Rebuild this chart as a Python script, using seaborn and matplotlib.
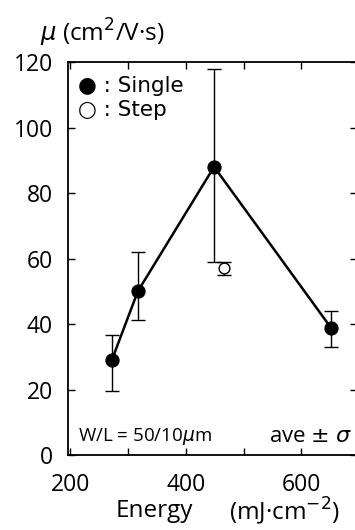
import numpy as np
import pandas as pd
import matplotlib
matplotlib.use("Agg")
import matplotlib.pyplot as plt
import seaborn as sns

# Data
single_energy = [272, 317, 449, 652]
single_mu = [29, 50, 88, 38.7]
single_err_low = [9.5, 8.8, 29, 5.7]
single_err_high = [7.6, 12.1, 30, 5.3]

step_energy = [466]
step_mu = [57]
step_err = [2]

x_ticks = [200, 400, 600]
y_ticks = [0, 20, 40, 60, 80, 100, 120]

sns.set_style("ticks")
plt.rcParams['font.family'] = ['Open Sans', 'DejaVu Sans']
plt.rcParams['text.color'] = 'black'
plt.rcParams['xtick.color'] = 'black'
plt.rcParams['ytick.color'] = 'black'
plt.rcParams['axes.edgecolor'] = 'black'

fig = plt.figure(figsize=(3.55, 5.3), dpi=100)
ax = fig.add_axes([0.1915, 0.1415, 0.815, 0.7415])

df_single = pd.DataFrame({"Energy": single_energy, "mu": single_mu})
df_step = pd.DataFrame({"Energy": step_energy, "mu": step_mu})

ax.errorbar(single_energy, single_mu, yerr=[single_err_low, single_err_high],
            fmt="none", ecolor="black", elinewidth=1.0, capsize=5, capthick=1.0, zorder=2)
ax.errorbar(step_energy, step_mu, yerr=step_err,
            fmt="none", ecolor="black", elinewidth=1.0, capsize=5, capthick=1.0, zorder=2)
sns.lineplot(data=df_single, x="Energy", y="mu", ax=ax, color="black", lw=1.8,
             marker="o", markersize=9.5, markerfacecolor="black", markeredgecolor="black",
             zorder=3)
sns.scatterplot(data=df_step, x="Energy", y="mu", ax=ax, s=60, facecolor="white",
                edgecolor="black", linewidth=1.0, zorder=4)

ax.set_xlim(196, 697)
ax.set_ylim(0, 120)
ax.set_xticks(x_ticks)
ax.set_xticks([300, 500], minor=True)
ax.set_yticks(y_ticks)
ax.tick_params(axis="both", which="both", direction="in", top=True, right=True,
               labelsize=16.5, length=5, width=1.0, colors="black")
ax.tick_params(axis="x", pad=13)
ax.tick_params(axis="y", pad=11)
for s in ax.spines.values():
    s.set_linewidth(1.3)
ax.set_xlabel("")
ax.set_ylabel("")

fig.text(0.113, 0.937, r"$\mu$ (cm$^2$/V·s)", fontsize=17.5, ha="left", va="center")
fig.text(0.325, 0.035, "Energy", fontsize=17.5, ha="left", va="center")
fig.text(0.958, 0.035, "(mJ·cm$^{-2}$)", fontsize=17.5, ha="right", va="center")

ax.text(0.035, 0.94, "● : Single", transform=ax.transAxes, fontsize=15.5, ha="left", va="center",
        family=["DejaVu Sans"])
ax.text(0.035, 0.877, "○ : Step", transform=ax.transAxes, fontsize=15.5, ha="left", va="center",
        family=["DejaVu Sans"])
ax.text(0.035, 0.047, r"W/L = 50/10$\mu$m", transform=ax.transAxes, fontsize=13.5, ha="left", va="center")
ax.text(0.98, 0.047, r"ave $\pm$ $\sigma$", transform=ax.transAxes, fontsize=16, ha="right", va="center")

fig.savefig("out.png", dpi=100)
